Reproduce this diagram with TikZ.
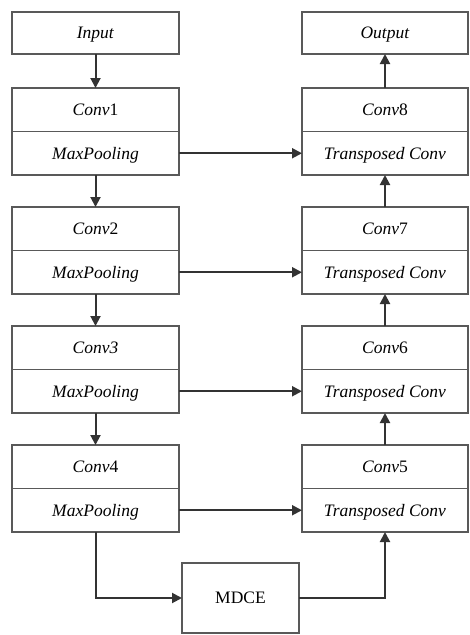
\documentclass[tikz,border=0pt]{standalone}
\usepackage{fontspec}
\setmainfont{Liberation Serif}
\usetikzlibrary{arrows.meta}
\tikzset{
  blk/.style={draw=black!65, line width=1.6pt, minimum width=167pt, minimum height=43.5pt, inner sep=0pt, outer sep=0pt, text depth=0pt, font=\fontsize{17.5}{19}\selectfont},
  divl/.style={draw=black!65, line width=1.6pt},
  lin/.style={draw=black!80, line width=2pt},
  arr/.style={lin, -{Triangle[length=10pt,width=10pt]}}
}
\begin{document}
\begin{tikzpicture}[x=1pt,y=-1pt]
\useasboundingbox (0,0) rectangle (469,635);
% left column
\node[blk, minimum height=42pt] (in) at (95.5,33) {\textit{Input}};
\node[blk] (c1) at (95.5,109.75) {\textit{Conv}1};
\node[blk] (p1) at (95.5,153.25) {\textit{MaxPooling}};
\node[blk] (c2) at (95.5,228.75) {\textit{Conv}2};
\node[blk] (p2) at (95.5,272.25) {\textit{MaxPooling}};
\node[blk] (c3) at (95.5,347.75) {\textit{Conv3}};
\node[blk] (p3) at (95.5,391.25) {\textit{MaxPooling}};
\node[blk] (c4) at (95.5,466.75) {\textit{Conv}4};
\node[blk] (p4) at (95.5,510.25) {\textit{MaxPooling}};
% right column
\node[blk, minimum width=166pt, minimum height=42pt] (out) at (385,33) {\textit{Output}};
\node[blk, minimum width=166pt] (c8) at (385,109.75) {\textit{Conv}8};
\node[blk, minimum width=166pt] (t8) at (385,153.25) {\textit{Transposed Conv}};
\node[blk, minimum width=166pt] (c7) at (385,228.75) {\textit{Conv}7};
\node[blk, minimum width=166pt] (t7) at (385,272.25) {\textit{Transposed Conv}};
\node[blk, minimum width=166pt] (c6) at (385,347.75) {\textit{Conv}6};
\node[blk, minimum width=166pt] (t6) at (385,391.25) {\textit{Transposed Conv}};
\node[blk, minimum width=166pt] (c5) at (385,466.75) {\textit{Conv}5};
\node[blk, minimum width=166pt] (t5) at (385,510.25) {\textit{Transposed Conv}};
% dividers
\foreach \n in {c1,c2,c3,c4,c5,c6,c7,c8}
  \draw[divl] (\n.south west) -- (\n.south east);
% MDCE
\node[blk, minimum width=117pt, minimum height=70pt] (md) at (240.5,598) {MDCE};
% vertical arrows left
\draw[arr] (in.south) -- (c1.north);
\draw[arr] (p1.south) -- (c2.north);
\draw[arr] (p2.south) -- (c3.north);
\draw[arr] (p3.south) -- (c4.north);
% vertical arrows right
\draw[arr] (c5.north) -- (t6.south);
\draw[arr] (c6.north) -- (t7.south);
\draw[arr] (c7.north) -- (t8.south);
\draw[arr] (c8.north) -- (out.south);
% skip connections
\draw[arr] (p1.east) -- (t8.west);
\draw[arr] (p2.east) -- (t7.west);
\draw[arr] (p3.east) -- (t6.west);
\draw[arr] (p4.east) -- (t5.west);
% MDCE path
\draw[arr] (p4.south) |- (md.west);
\draw[arr] (md.east) -| (t5.south);
\end{tikzpicture}
\end{document}
